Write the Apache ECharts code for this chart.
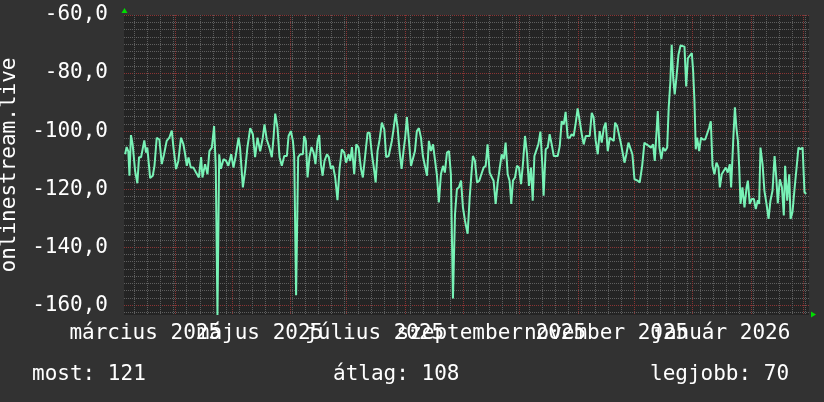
<!DOCTYPE html>
<html>
<head>
<meta charset="utf-8">
<script src="https://cdn.jsdelivr.net/npm/echarts@6/dist/echarts.min.js"></script>
<style>
  html, body { margin: 0; padding: 0; background: #323232; }
  #chart { width: 824px; height: 402px; }
</style>
</head>
<body>
<div id="chart"></div>
<script>
// Day 0 = 2025-03-01 (local time). Values are signal levels (dBm) of onlinestream.live.
const days = [
  4.3,5.1,6.0,6.6,7.4,8.3,9.6,10.8,11.7,12.8,13.7,14.5,15.4,16.1,17.6,19.0,19.9,21.1,22.5,23.8,
  25.0,26.4,27.8,29.1,30.0,31.4,32.6,34.0,35.3,36.2,37.1,38.0,39.2,40.6,42.0,43.5,44.7,45.4,46.8,48.1,
  49.1,50.4,51.6,52.5,53.4,54.3,55.2,56.6,58.0,59.2,60.7,61.9,63.1,64.6,65.4,66.9,68.1,69.3,70.8,72.2,
  73.4,74.7,76.1,77.5,78.4,79.6,81.0,82.3,83.2,84.1,85.3,86.4,87.6,88.9,90.3,91.2,92.4,93.5,94.2,
  95.2,96.3,97.4,98.8,99.5,100.4,101.3,102.3,103.4,104.5,105.5,106.6,107.5,108.4,109.3,110.3,111.6,112.6,113.7,114.8,
  116.0,117.2,118.3,119.5,120.8,121.8,123.1,124.0,124.9,126.1,127.2,128.4,129.7,130.7,132.0,133.2,134.3,135.5,136.4,137.5,
  138.5,139.6,140.8,142.1,143.1,144.4,145.3,146.1,147.0,148.1,149.2,150.2,151.3,152.3,153.2,154.1,155.2,156.3,157.3,158.4,
  159.4,160.5,161.6,162.6,163.7,164.8,165.8,166.9,168.0,169.0,170.1,171.1,172.2,173.3,174.3,175.4,176.5,177.5,178.6,179.7,
  180.7,181.8,182.9,183.9,185.0,
  186.4,187.5,188.4,189.2,190.3,191.4,192.6,193.7,194.9,196.0,197.0,198.1,199.3,200.2,201.3,202.4,203.4,204.5,205.6,206.6,
  207.7,208.7,209.6,210.5,211.6,212.6,213.7,214.8,215.8,216.9,218.0,219.0,220.1,221.0,221.9,222.9,224.0,225.1,226.1,226.8,
  227.9,229.0,230.0,231.1,232.2,233.2,234.3,235.4,236.4,237.5,238.5,239.6,240.7,241.7,242.8,243.9,244.9,246.0,247.1,248.1,
  249.2,250.2,251.3,252.4,253.4,254.5,255.6,256.6,257.7,258.8,259.8,260.9,262.0,263.0,264.1,264.8,265.9,266.9,268.0,269.0,
  269.8,270.8,271.9,272.9,274.0,275.1,
  276.8,277.9,279.2,280.4,281.5,282.7,283.9,285.0,285.9,286.8,287.5,288.4,289.4,290.3,291.4,292.5,293.3,294.2,294.9,295.7,
  296.5,297.4,298.5,299.6,300.6,301.7,302.6,303.5,304.5,305.6,306.3,307.0,307.7,308.4,309.5,310.5,311.6,312.7,313.7,314.8,
  315.7,316.6,317.6,318.7,319.8,320.5,321.5,322.6,323.7,324.7,325.8,326.5,327.6,328.5,329.3,330.1,330.8,331.5,332.5,333.6,
  334.7,335.4,336.4,337.5,338.6,339.6,340.7,341.4,342.1,343.2,344.2,345.3,346.4,347.4,348.5,349.6,350.5,351.3,352.4,353.5,
  354.5,355.2,356.3,357.4,358.1,359.1,360.2,361.3,362.3,363.4,364.5,365.5,366.4
];
const signal = [
  -108,-105.5,-107,-115.4,-101.4,-104.6,-113.7,-118,-109,-109,-108.6,-103.2,-107.4,-105.7,-116.2,-115.4,-112,-102.3,-102.9,-111.4,
  -108,-103.4,-102.3,-99.8,-105.7,-113.1,-110.3,-102.3,-104.6,-108,-112,-109.1,-112.6,-112.6,-114.3,-116,-109,-116,-111.4,-114.9,
  -106.9,-105.7,-98.3,-112.6,-163.4,-108,-113,-109.7,-110.3,-112,-108,-112.6,-108.6,-102.3,-105.7,-119.4,-113.7,-105.7,-99,-101.1,
  -109,-102.3,-107,-102.3,-97.7,-102.9,-105.7,-109,-102.3,-94,-98.9,-109,-112,-108.6,-108.6,-101.7,-100,-103.4,-108.6,
  -156.6,-109,-108,-108,-101.7,-103.4,-116,-109,-105.5,-107.4,-111.4,-103.4,-101.4,-111.4,-115.4,-110.3,-108,-109,-113,-112,
  -116,-123.8,-113,-106.3,-107.4,-110.9,-108,-110.3,-105.5,-114.9,-104.6,-105.7,-113,-116,-108,-100.6,-100.6,-108,-112,-117.7,
  -106.9,-102.9,-97.1,-99.4,-109,-108.6,-108.6,-103.4,-99.4,-94,-98.9,-106.9,-113,-106.9,-102.3,-95.2,-103.4,-112,-112,-106.9,
  -100,-99,-102.3,-108.6,-112,-115.4,-103.4,-106.9,-104.6,-104,-115.4,-124.6,-114.9,-112,-114.3,-107.4,-106.9,-114.9,-157.7,-128.6,
  -120,-119.4,-117.1,-126.3,-130.9,
  -135.4,-122.9,-114.9,-108.6,-110.3,-117.7,-117.1,-114.9,-112.6,-112,-104.6,-114.3,-116,-117.1,-125.1,-117.7,-118.3,-108,-109.7,-104,
  -114.9,-117.1,-125.1,-117.1,-116,-112,-112.6,-118.3,-111.4,-101.7,-108,-118.9,-112.6,-124,-108.6,-108,-104.6,-100.2,-111.4,-122.3,
  -106.3,-105.7,-101.1,-104.6,-108.6,-109.1,-108.6,-105.1,-96.6,-97.7,-93.4,-102.3,-102.3,-101.1,-101.7,-97.1,-92.2,-96.6,-101.1,-104.6,
  -101.7,-102.3,-101.7,-93.7,-95.4,-103.4,-108,-100,-104,-98.9,-97.1,-106.9,-102.3,-102.3,-103.4,-97.1,-98.3,-98.3,-104.6,-104.6,
  -110.9,-108,-104,-104,-108,-116.6,
  -117.1,-117.7,-112,-104,-104.6,-105.1,-105.7,-104.6,-110.3,-110.3,-93.1,-105.7,-109.7,-105.7,-106.9,-105.7,-92,-82.9,-70.3,-81.7,
  -87.4,-81.7,-73.7,-70.5,-70.9,-70.9,-84.6,-74.9,-74.9,-73.1,-79.4,-89.7,-106.3,-102.3,-106.9,-102.3,-102.9,-102.9,-102.3,-98.9,
  -96.6,-112,-114.9,-110.9,-112.6,-119.4,-114.9,-113.7,-112.6,-114.3,-111.4,-119.4,-103.4,-91.8,-98.9,-103.4,-112.6,-125.1,-119.4,-126.3,
  -119.4,-117.1,-125.1,-123.4,-123.4,-126.9,-123.8,-125.1,-105.7,-111.4,-120.6,-125.1,-130.3,-124,-120.6,-108.6,-116,-124.9,-116.6,-119.4,
  -129.1,-112,-124,-114.9,-130.3,-128,-120,-112.6,-105.7,-106.3,-105.7,-121.1,-121.7
];

// Time window shown (days from 2025-03-01) and value window.
const xRange = [3.7, 367.9];
const yRange = [-163.4, -60];
// Month starts (days from 2025-03-01) -> major grid
const monthStarts = [31, 61, 92, 122, 153, 184, 214, 245, 275, 306, 337, 365];
// Mondays -> minor grid
const mondays = [];
for (let d = 9; d <= xRange[1]; d += 7) if (monthStarts.indexOf(d) < 0) mondays.push(d);
// Label ticks (mid-month, every 2nd month) and their texts
const labelDays = [15, 76, 137, 199, 260, 321];
const labelTexts = ['március 2025', 'május 2025', 'július 2025', 'szeptember 2025', 'november 2025', 'január 2026'];
// Y ticks
const yMajor = [-160, -140, -120, -100, -80, -60];
const yMinor = [];
for (let v = -162.5; v <= -60; v += 2.5) if (yMajor.indexOf(v) < 0) yMinor.push(v);
// Legend stats
const stats = [
  { label: 'most', value: 121 },
  { label: 'átlag', value: 108 },
  { label: 'legjobb', value: 70 }
];

const FONT = 'DejaVu Sans Mono';
const MINOR = '#5e5e5e';
const MAJOR = '#8a3434';

const labelAxis = (vals) => ({
  type: 'value', min: xRange[0], max: xRange[1], position: 'bottom', offset: 0,
  splitLine: { show: false }, axisLine: { show: false }, axisTick: { show: false },
  axisLabel: {
    customValues: vals,
    formatter: v => labelTexts[labelDays.indexOf(Math.round(v))] || '',
    color: '#ffffff', fontFamily: FONT, fontSize: 21, margin: 8,
    showMinLabel: true, showMaxLabel: true, hideOverlap: false
  }
});
const gridAxis = (type, range, vals, color) => ({
  type: 'value', min: range[0], max: range[1], position: type === 'x' ? 'bottom' : 'left', offset: 0,
  axisLine: { show: false }, axisLabel: { show: false },
  axisTick: { show: false, customValues: vals },
  splitLine: { show: true, lineStyle: { color: color, width: 1, type: [1, 1] } }
});

const chart = echarts.init(document.getElementById('chart'), null, { renderer: 'canvas' });

const option = {
  animation: false,
  backgroundColor: '#323232',
  grid: { left: 124, top: 15, width: 685, height: 300, show: true, backgroundColor: '#242424', borderWidth: 0,
    containLabel: false, outerBoundsMode: 'none' },
  xAxis: [
    labelAxis(labelDays.filter((d, i) => i % 2 === 0)),
    labelAxis(labelDays.filter((d, i) => i % 2 === 1)),
    gridAxis('x', xRange, mondays, MINOR),
    gridAxis('x', xRange, monthStarts, MAJOR)
  ],
  yAxis: [
    {
      type: 'value', min: yRange[0], max: yRange[1],
      name: 'onlinestream.live', nameLocation: 'middle', nameRotate: 90, nameGap: 104,
      nameTextStyle: { color: '#ffffff', fontFamily: FONT, fontSize: 21 },
      splitLine: { show: false }, axisLine: { show: false }, axisTick: { show: false },
      axisLabel: {
        customValues: yMajor,
        formatter: v => v.toFixed(1).replace('.', ','),
        color: '#ffffff', fontFamily: FONT, fontSize: 21, margin: 16
      }
    },
    gridAxis('y', yRange, yMinor, MINOR),
    gridAxis('y', yRange, yMajor, MAJOR)
  ],
  series: [
    {
      type: 'line', z: 3, showSymbol: false, silent: true,
      data: days.map((d, i) => [d, signal[i]]),
      lineStyle: { color: '#78f2b6', width: 2 },
      itemStyle: { color: '#78f2b6' }
    }
  ],
  graphic: stats.map((s, i) => ({
    type: 'text',
    left: [32, 333, 650][i], top: 364,
    style: { text: s.label + ': ' + s.value, fill: '#ffffff', font: '21px "' + FONT + '"' }
  }))
};
chart.setOption(option);

// Green axis arrows placed at the axis ends
const tl = chart.convertToPixel({ xAxisIndex: 0, yAxisIndex: 0 }, [xRange[0], yRange[1]]);
const br = chart.convertToPixel({ xAxisIndex: 0, yAxisIndex: 0 }, [xRange[1], yRange[0]]);
chart.setOption({
  graphic: option.graphic.concat([
    { type: 'polygon', shape: { points: [[tl[0] + 0.5, tl[1] - 7], [tl[0] - 2.5, tl[1] - 2], [tl[0] + 3.5, tl[1] - 2]] }, style: { fill: '#00dd00' }, silent: true },
    { type: 'polygon', shape: { points: [[br[0] + 7, br[1] - 0.5], [br[0] + 2, br[1] - 3.5], [br[0] + 2, br[1] + 2.5]] }, style: { fill: '#00dd00' }, silent: true }
  ])
});
</script>
</body>
</html>
